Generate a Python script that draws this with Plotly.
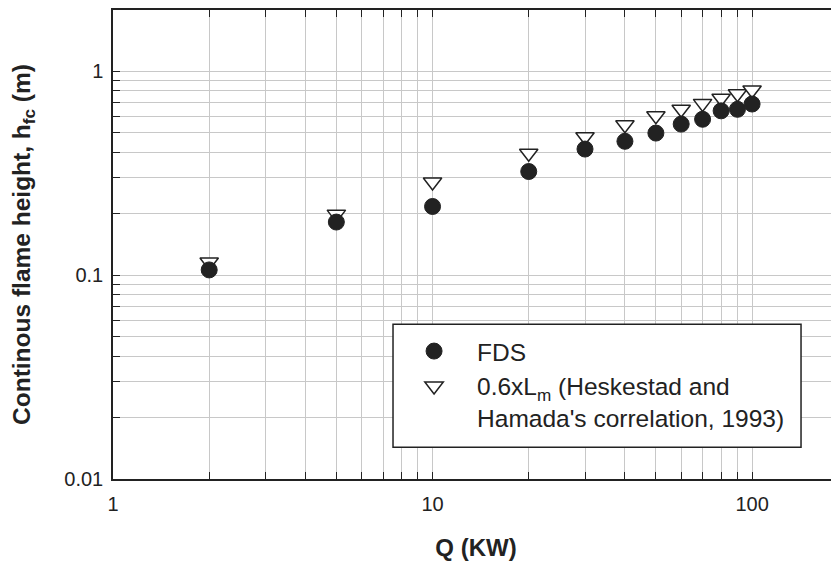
import plotly.graph_objects as go

# ---- data ----
q_kw = [2, 5, 10, 20, 30, 40, 50, 60, 70, 80, 90, 100]
fds_hfc = [0.106, 0.182, 0.217, 0.322, 0.415, 0.453, 0.497, 0.550, 0.581, 0.639, 0.650, 0.690]
heskestad_hfc = [0.116, 0.199, 0.286, 0.396, 0.477, 0.546, 0.604, 0.650, 0.695, 0.736, 0.775, 0.808]

x_tickvals = [1, 2, 3, 4, 5, 6, 7, 8, 9, 10, 20, 30, 40, 50, 60, 70, 80, 90, 100, 200]
x_ticktext = ["1", "", "", "", "", "", "", "", "", "10", "", "", "", "", "", "", "", "", "100", ""]
y_tickvals = [0.01, 0.02, 0.03, 0.04, 0.05, 0.06, 0.07, 0.08, 0.09,
              0.1, 0.2, 0.3, 0.4, 0.5, 0.6, 0.7, 0.8, 0.9, 1, 2]
y_ticktext = ["0.01", "", "", "", "", "", "", "", "",
              "0.1", "", "", "", "", "", "", "", "", "1", ""]

FONT = "Liberation Sans, Arial, sans-serif"
INK = "#222222"
GRID = "#c8c8c8"

fig = go.Figure()
fig.add_trace(go.Scatter(
    x=q_kw, y=heskestad_hfc, mode="markers",
    name="0.6xL<sub>m</sub> (Heskestad and<br>Hamada's correlation, 1993)",
    legendrank=2,
    marker=dict(symbol="triangle-down", size=16, color="white",
                line=dict(color=INK, width=1.5)),
))
fig.add_trace(go.Scatter(
    x=q_kw, y=fds_hfc, mode="markers", name="FDS",
    legendrank=1,
    marker=dict(symbol="circle", size=16, color=INK,
                line=dict(color=INK, width=1)),
))

axis_common = dict(
    type="log", showgrid=True, gridcolor=GRID, gridwidth=1.3,
    showline=True, linecolor=INK, linewidth=1.5,
    ticks="inside", ticklen=7, tickcolor=INK, tickwidth=1,
    tickfont=dict(family=FONT, size=20, color=INK),
    zeroline=False,
)

fig.update_xaxes(
    **axis_common,
    range=[0, 2.272], mirror="ticks",
    tickmode="array", tickvals=x_tickvals, ticktext=x_ticktext,
    ticklabelstandoff=6,
    title=dict(text="<b>Q (KW)</b>", font=dict(family=FONT, size=24, color=INK), standoff=25),
)
fig.update_yaxes(
    **axis_common,
    range=[-2, 0.3], mirror=False,
    tickmode="array", tickvals=y_tickvals, ticktext=y_ticktext,
    ticklabelstandoff=4,
    title=dict(text="<b>Continous flame height, h<sub>fc</sub> (m)</b>",
               font=dict(family=FONT, size=24.5, color=INK), standoff=27),
)

# legend frame (layout decoration)
fig.add_shape(type="rect", xref="paper", yref="paper",
              x0=0.3857, x1=0.9477, y0=0.0679, y1=0.330,
              fillcolor="white", line=dict(color=INK, width=1.5), layer="above")

fig.update_layout(
    width=839, height=564, autosize=False,
    margin=dict(l=105, r=8, t=0, b=93),
    plot_bgcolor="white", paper_bgcolor="white",
    font=dict(family=FONT, color=INK),
    legend=dict(
        x=0.3830, y=0.3206, xanchor="left", yanchor="top",
        bgcolor="rgba(0,0,0,0)", borderwidth=0,
        font=dict(family=FONT, size=24.5, color=INK),
        valign="top", itemwidth=76, tracegroupgap=0,
    ),
    showlegend=True,
)

fig.write_html("out.html")
